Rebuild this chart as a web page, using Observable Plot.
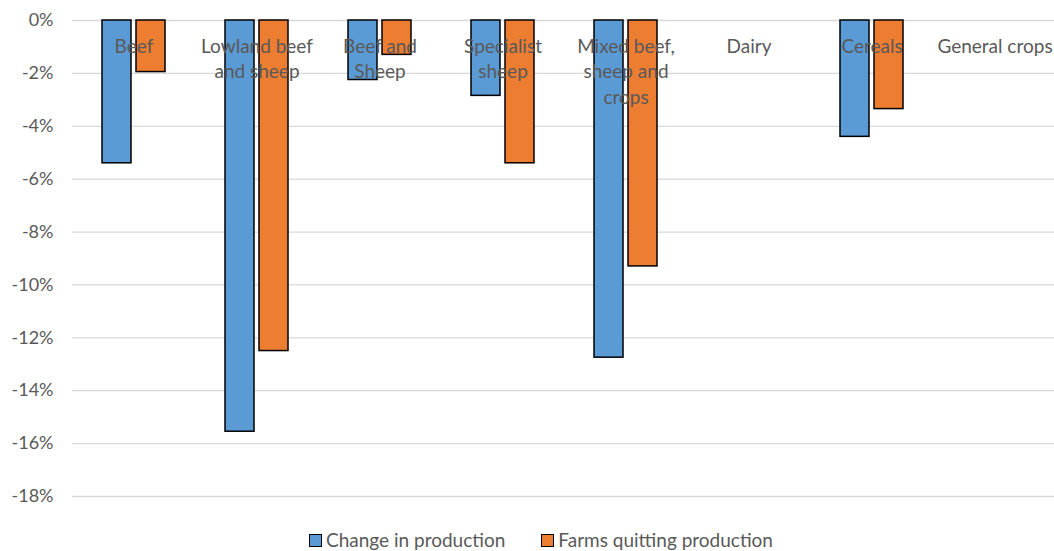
<!DOCTYPE html>
<html>
<head>
<meta charset="utf-8">
<script src="https://cdn.jsdelivr.net/npm/d3@7"></script>
<script src="https://cdn.jsdelivr.net/npm/@observablehq/plot@0.6"></script>
<style>
  body { margin: 0; background: #fff; font-family: Lato, "Open Sans", sans-serif; }
  #legend { display: flex; justify-content: center; gap: 36px; height: 24px; line-height: 24px; font-size: 19px; color: #595959; margin-left: 28px; }
  #legend span.item { display: inline-flex; align-items: center; }
  #legend span.sw { display: inline-block; width: 11px; height: 11px; border: 1.5px solid #000; margin-right: 4px; }
</style>
</head>
<body>
<div id="chart"></div>
<div id="legend"></div>
<script>
const categories = ["Beef", "Lowland beef and sheep", "Beef and Sheep", "Specialist sheep", "Mixed beef, sheep and crops", "Dairy", "Cereals", "General crops"];
const categoryLabels = ["Beef", "Lowland beef\nand sheep", "Beef and\nSheep", "Specialist\nsheep", "Mixed beef,\nsheep and\ncrops", "Dairy", "Cereals", "General crops"];
const seriesNames = ["Change in production", "Farms quitting production"];
const changeInProduction = [-5.4, -15.55, -2.25, -2.85, -12.75, null, -4.4, null];
const farmsQuitting = [-1.95, -12.5, -1.3, -5.4, -9.3, null, -3.35, null];
const colors = ["#5B9BD5", "#ED7D31"];
const yTicks = [0, -2, -4, -6, -8, -10, -12, -14, -16, -18];

const data = [];
categories.forEach((c, i) => {
  data.push({category: c, series: seriesNames[0], value: changeInProduction[i]});
  data.push({category: c, series: seriesNames[1], value: farmsQuitting[i]});
});
const labelRows = categories.map((c, i) => ({category: c, label: categoryLabels[i]}));

const chart = Plot.plot({
  width: 1054,
  height: 528,
  marginTop: 20,
  marginBottom: 32,
  marginLeft: 72,
  marginRight: -2,
  style: {fontFamily: "Lato, 'Open Sans', sans-serif", fontSize: "18px", color: "#595959", background: "#fff"},
  fx: {domain: categories, padding: 0, axis: null},
  x: {domain: seriesNames, paddingInner: 0.147, paddingOuter: 0.88, axis: null},
  y: {domain: [-18, 0], ticks: yTicks, tickFormat: d => `${d}%`, label: null},
  color: {domain: seriesNames, range: colors},
  marks: [
    Plot.gridY(yTicks, {stroke: "#d9d9d9", strokeOpacity: 1, strokeWidth: 1.3}),
    Plot.axisY(yTicks, {tickSize: 0, tickPadding: 19, tickFormat: d => `${d}%`, fill: "#595959", fontSize: 18, label: null}),
    Plot.barY(data.filter(d => d.value != null), {fx: "category", x: "series", y1: 0, y2: "value", fill: "series", stroke: "#000", strokeWidth: 1.5}),
    Plot.text(labelRows, {fx: "category", text: "label", frameAnchor: "top", lineAnchor: "top", dy: 14, lineHeight: 1.35, fill: "#595959", fontSize: 19})
  ]
});
document.getElementById("chart").appendChild(chart);

const legend = document.getElementById("legend");
seriesNames.forEach((s, i) => {
  const item = document.createElement("span");
  item.className = "item";
  const sw = document.createElement("span");
  sw.className = "sw";
  sw.style.background = colors[i];
  item.appendChild(sw);
  item.appendChild(document.createTextNode(s));
  legend.appendChild(item);
});
</script>
</body>
</html>
